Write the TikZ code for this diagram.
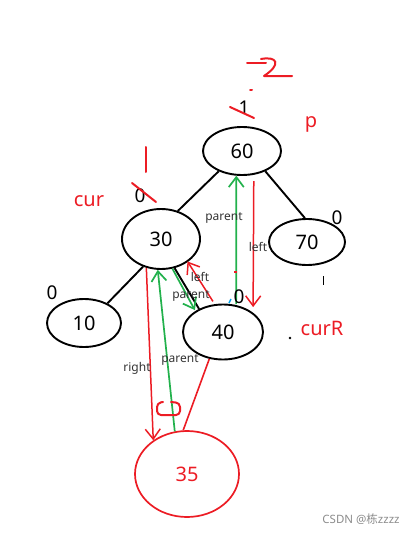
\documentclass[tikz,border=0pt]{standalone}
\usepackage{fontspec}
\setmainfont{Noto Sans}
\newfontfamily\cjkfont{Noto Sans CJK SC}
\usetikzlibrary{shapes.geometric,arrows.meta}
\definecolor{pred}{HTML}{EC1C24}
\definecolor{pgreen}{HTML}{22B14C}
\definecolor{pblue}{HTML}{00A2E8}
\tikzset{
  bnode/.style={ellipse,draw=black,line width=1.9pt,inner sep=0pt,font=\fontsize{20}{24}\selectfont},
  rnode/.style={ellipse,draw=pred,line width=1.7pt,inner sep=0pt,text=pred,font=\fontsize{20}{24}\selectfont},
  edge/.style={draw=black,line width=1.9pt},
  redline/.style={draw=pred,line width=1.6pt},
  scribble/.style={draw=pred,line width=2pt,line cap=round,line join=round},
  redarrow/.style={draw=pred,line width=1.5pt,-{Straight Barb[length=10pt,width=15pt,line width=1.5pt]}},
  greenarrow/.style={draw=pgreen,line width=1.7pt,-{Straight Barb[length=10pt,width=15pt,line width=1.7pt]}},
  lbl/.style={inner sep=0pt,font=\fontsize{12}{14}\selectfont,text=black!80},
  num/.style={inner sep=0pt,font=\fontsize{19}{22}\selectfont},
  redtxt/.style={inner sep=0pt,text=pred,font=\fontsize{20}{24}\selectfont},
}
\begin{document}
\begin{tikzpicture}[x=1pt,y=-1pt]
\useasboundingbox (0,0) rectangle (417,535);
% nodes
\node[bnode,minimum width=78pt,minimum height=48pt] (n60) at (242,151) {60};
\node[bnode,minimum width=78pt,minimum height=60pt] (n30) at (161,239) {30};
\node[bnode,minimum width=76pt,minimum height=46pt] (n70) at (307,242) {\raisebox{-9pt}{70}};
\node[bnode,minimum width=74pt,minimum height=48pt] (n10) at (84,323) {\raisebox{-10pt}{10}};
\node[bnode,minimum width=80pt,minimum height=55pt] (n40) at (223,332) {\raisebox{-9pt}{40}};
\node[rnode,minimum width=104pt,minimum height=86pt] (n35) at (187,474) {35};
% tree edges
\path[edge] (n60.-139) -- (n30.59);
\path[edge] (n60.-41) -- (n70.95);
\path[edge] (n30.-123) -- (n10.40);
\path[edge] (n30.-65) -- (n40.136);
\path[redline] (n40.-117) -- (n35.95);
% pointer arrows
\path[redarrow] (n30.-117) -- (n35.135);
\path[greenarrow] (n35.106) -- (n30.-96);
\path[redarrow] ([xshift=2pt,yshift=-6pt]n60.-68) -- ([xshift=4pt,yshift=3pt]n40.40);
\path[greenarrow] ([yshift=1pt]n40.64) -- (n60.-103);
\path[redarrow] ([yshift=3pt]n40.110) -- ([xshift=2pt,yshift=2pt]n30.-45);
\path[greenarrow] (n30.-69) -- ([xshift=-2pt]n40.140);
% pointer labels
\node[lbl] (tparent1) at (224,218) {parent};
\node[lbl] (tleft1) at (258,247) {left};
\node[lbl] (tleft2) at (200,277) {left};
\node[lbl] (tparent2) at (191,296) {parent};
\node[lbl] (tright) at (137,368) {right};
\node[lbl] (tparent3) at (180,360) {parent};
% balance factors
\node[num] (b60) at (244,108) {1};
\path[scribble] (230,107) -- (254,118);
\path[scribble] (250,90) -- (252,90);
\path[scribble] (247,63) -- (266,63);
\path[scribble] (261,59) .. controls (277,56) and (282,64) .. (264,76) -- (292,76);
\node[num] (b30) at (140,196) {0};
\path[scribble] (132,183) -- (156,202);
\path[scribble] (146,147) -- (146,172);
\node[num] (b70) at (337,218) {0};
\node[num] (b10) at (52,293) {0};
\node[num] (b40) at (239,297) {0};
\path[draw=pblue,line width=1.5pt] (229,303) -- (231,299);
\path[draw=pred,line width=1.2pt] (234,272) -- (237,272);
\path[scribble,rounded corners=4pt] (163,402) -- (157,403) -- (157,415) -- (180,415) -- (180,403) -- (171,402);
% names
\node[redtxt] (tp) at (311,124) {p};
\node[redtxt] (tcur) at (89,201) {cur};
\node[redtxt] (tcurR) at (322,328) {curR};
% small marks
\path[draw=black,line width=1pt] (323,276) -- (323,285);
\fill[black] (290,338) circle (1.3pt);
% watermark
\node[inner sep=0pt,text=black!45,font=\fontsize{11.5}{14}\selectfont] (wm) at (361,519) {CSDN @{\cjkfont 栋}zzzz};
\end{tikzpicture}
\end{document}
